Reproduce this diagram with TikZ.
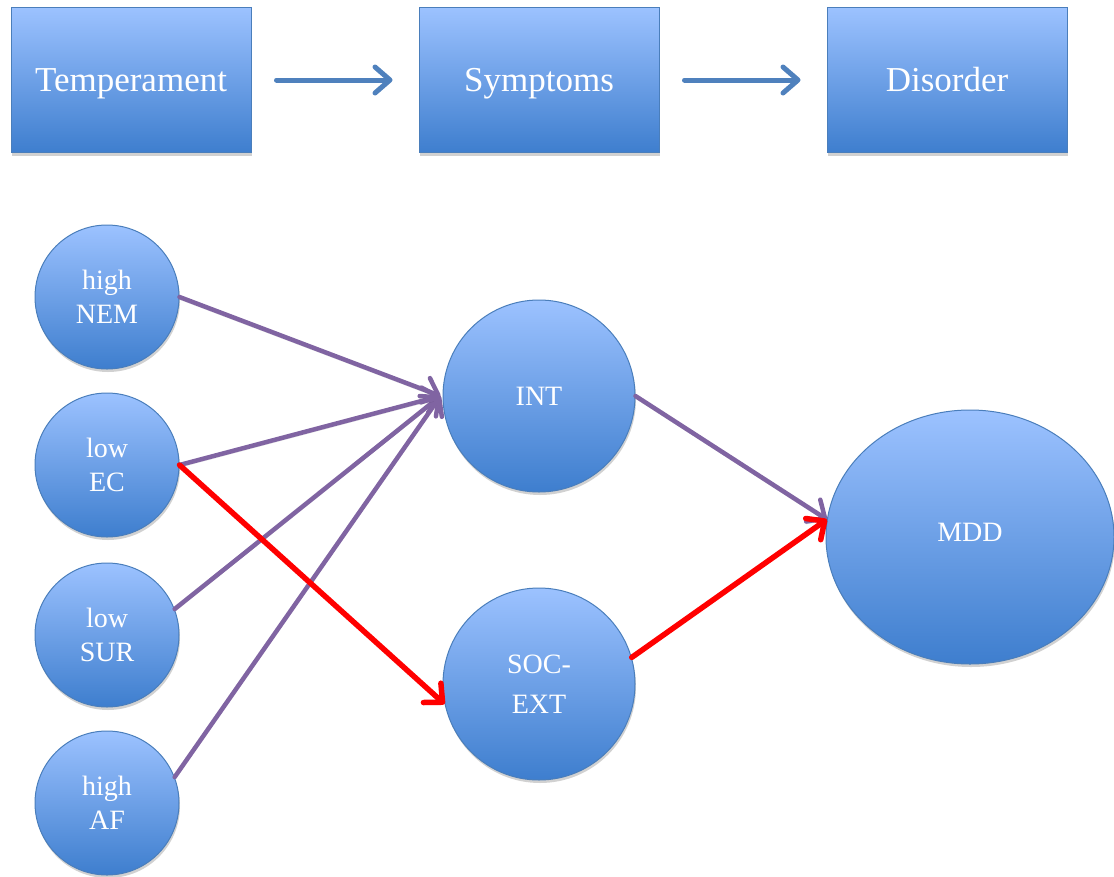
\documentclass[tikz,border=0pt]{standalone}
\usepackage{fontspec}
\setmainfont{Liberation Serif}
\usetikzlibrary{shapes.geometric,arrows.meta,shadows}
\definecolor{gtop}{HTML}{9CC2FF}
\definecolor{gbot}{HTML}{3E7ECE}
\definecolor{bord}{HTML}{4A7EBB}
\definecolor{barrow}{HTML}{4F81BD}
\definecolor{parrow}{HTML}{8064A2}
\definecolor{rarrow}{HTML}{FF0000}
\tikzset{
  fillshade/.style={top color=gtop, bottom color=gbot, draw=bord, line width=1pt,
    drop shadow={shadow xshift=1pt, shadow yshift=-3pt, opacity=0.3, fill=black!60}},
  topbox/.style={fillshade, rectangle, minimum width=240pt, minimum height=145pt, inner sep=0pt,
    text=white, font=\fontsize{35}{40}\selectfont, text height=23pt, text depth=0pt},
  smallcirc/.style={fillshade, circle, minimum size=144pt, inner sep=0pt, text=white,
    align=center, font=\fontsize{28}{34}\selectfont},
  bigcirc/.style={fillshade, circle, minimum size=192pt, inner sep=0pt, text=white,
    align=center, font=\fontsize{28}{40}\selectfont},
  arrshadow/.style={preaction={draw=black, opacity=0.12, transform canvas={yshift=-2.5pt}}},
  bluearr/.style={arrshadow, draw=barrow, line width=5pt, line cap=round,
    -{Straight Barb[length=15pt,width=26pt,line cap=round,line join=round]}},
  purparr/.style={arrshadow, draw=parrow, line width=4.5pt, line cap=round,
    -{Straight Barb[length=14pt,width=26pt,line cap=round,line join=round]}},
  redarr/.style={arrshadow, draw=rarrow, line width=5.5pt, line cap=round,
    -{Straight Barb[length=14pt,width=26pt,line cap=round,line join=round]}},
}
\begin{document}
\begin{tikzpicture}[x=1pt,y=-1pt]
\useasboundingbox (0,0) rectangle (1114,876);
\node[topbox] (temp) at (131,80) {Temperament};
\node[topbox] (symp) at (539,80) {Symptoms};
\node[topbox] (dis) at (947,80) {Disorder};
\draw[bluearr] ([xshift=25pt]temp.east) -- ([xshift=-26pt]symp.west);
\draw[bluearr] ([xshift=25pt]symp.east) -- ([xshift=-26pt]dis.west);

\node[smallcirc] (nem) at (107,297) {high\\NEM};
\node[smallcirc] (ec) at (107,465) {low\\EC};
\node[smallcirc] (sur) at (107,635) {low\\SUR};
\node[smallcirc] (af) at (107,803) {high\\AF};
\node[bigcirc] (int) at (539,396) {INT};
\node[bigcirc] (soc) at (539,684) {SOC-\\EXT};
\node[fillshade, ellipse, minimum width=288pt, minimum height=254pt, inner sep=0pt,
  text=white, font=\fontsize{28}{34}\selectfont] (mdd) at (970,537) {\raisebox{9pt}{MDD}};

\draw[purparr] (nem.east) -- ([xshift=-2pt]int.west);
\draw[purparr] (ec.east) -- ([xshift=-2pt]int.west);
\draw[purparr] (sur.21) -- ([xshift=-2pt]int.west);
\draw[purparr] (af.21) -- ([xshift=-2pt]int.west);
\draw[redarr] (ec.east) -- (soc.192);
\draw[purparr] (int.east) -- (mdd.173);
\draw[redarr] (soc.16) -- (mdd.173);
\end{tikzpicture}
\end{document}
